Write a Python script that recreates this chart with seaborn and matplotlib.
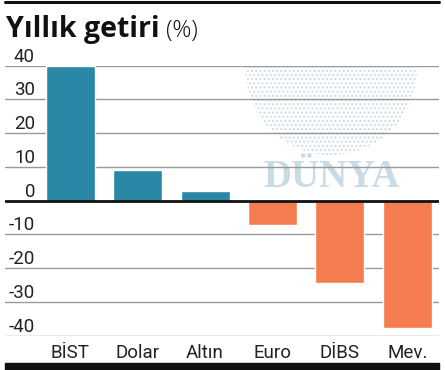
import matplotlib
matplotlib.use("Agg")
import matplotlib.pyplot as plt
import seaborn as sns
import pandas as pd
from matplotlib.patches import Ellipse
from matplotlib import font_manager

categories = ["BİST", "Dolar", "Altın", "Euro", "DİBS", "Mev."]
values = [39.9, 9.2, 3.0, -7.3, -24.3, -37.7]
yticks = [-40, -30, -20, -10, 0, 10, 20, 30, 40]

BLUE = "#2a87a6"
ORANGE = "#f47c4e"

sns.set_theme(style="white")
names = {f.name for f in font_manager.fontManager.ttflist}
narrow = "Liberation Sans Narrow" if "Liberation Sans Narrow" in names else "Roboto"
plt.rcParams["font.family"] = [narrow, "DejaVu Sans"]

df = pd.DataFrame({"cat": categories, "val": values})
colors = [BLUE if v >= 0 else ORANGE for v in values]

W, H = 445, 370
fig = plt.figure(figsize=(W / 100, H / 100), dpi=100)
ax = fig.add_axes([5 / W, 1 - 335.7 / H, 434 / W, 270 / H])

# watermark globe
plt.rcParams["hatch.color"] = "#cddbe4"
ax.add_patch(Ellipse((3.87, 39.0), 2.55, 51.0, facecolor="none", edgecolor="#cddbe4",
                     hatch="....", linewidth=0, zorder=0))
ax.text(3.87, 6.8, "DÜNYA", ha="center", va="center", fontsize=28, fontweight="bold",
        family="Liberation Serif", color="#c9dce6", zorder=0.5)

sns.barplot(data=df, x="cat", y="val", hue="cat", palette=colors, legend=False,
            width=0.727, saturation=1, ax=ax, zorder=2)

ax.set_xlim(-0.969, 5.47)
ax.set_ylim(-40, 40)
ax.set_yticks(yticks)
ax.set_yticklabels([str(t) for t in yticks])
for y in yticks:
    if y != 0:
        ax.axhline(y, color="#999999", lw=1, zorder=1)
ax.axhline(0, color="#111111", lw=2, zorder=3)

for s in ax.spines.values():
    s.set_visible(False)
ax.tick_params(axis="y", length=0, pad=-21.6, labelsize=13.5, colors="#222222")
for lab in ax.get_yticklabels():
    lab.set_ha("right")
    lab.set_va("bottom")
ax.tick_params(axis="x", length=0, pad=6, labelsize=13.5, colors="#222222")
ax.set_xlabel("")
ax.set_ylabel("")
ax.patch.set_alpha(0)

# top rule and bottom bar
fig.add_artist(plt.Line2D([5 / W, 439 / W], [1 - 1.5 / H, 1 - 1.5 / H], color="#111111", lw=2.2))
fig.add_artist(plt.Rectangle((5 / W, 0), 434 / W, 7 / H, color="#111111"))

fig.text(6 / W, 1 - 37 / H, "Yıllık getiri", fontsize=20.5, fontweight="bold",
         family=["Open Sans", "DejaVu Sans"], color="#111111", va="baseline")
fig.text(166 / W, 1 - 37 / H, "(%)", fontsize=17, fontweight="light",
         family=["Open Sans", "DejaVu Sans"], color="#111111", va="baseline")

fig.savefig("out.png", dpi=100)
